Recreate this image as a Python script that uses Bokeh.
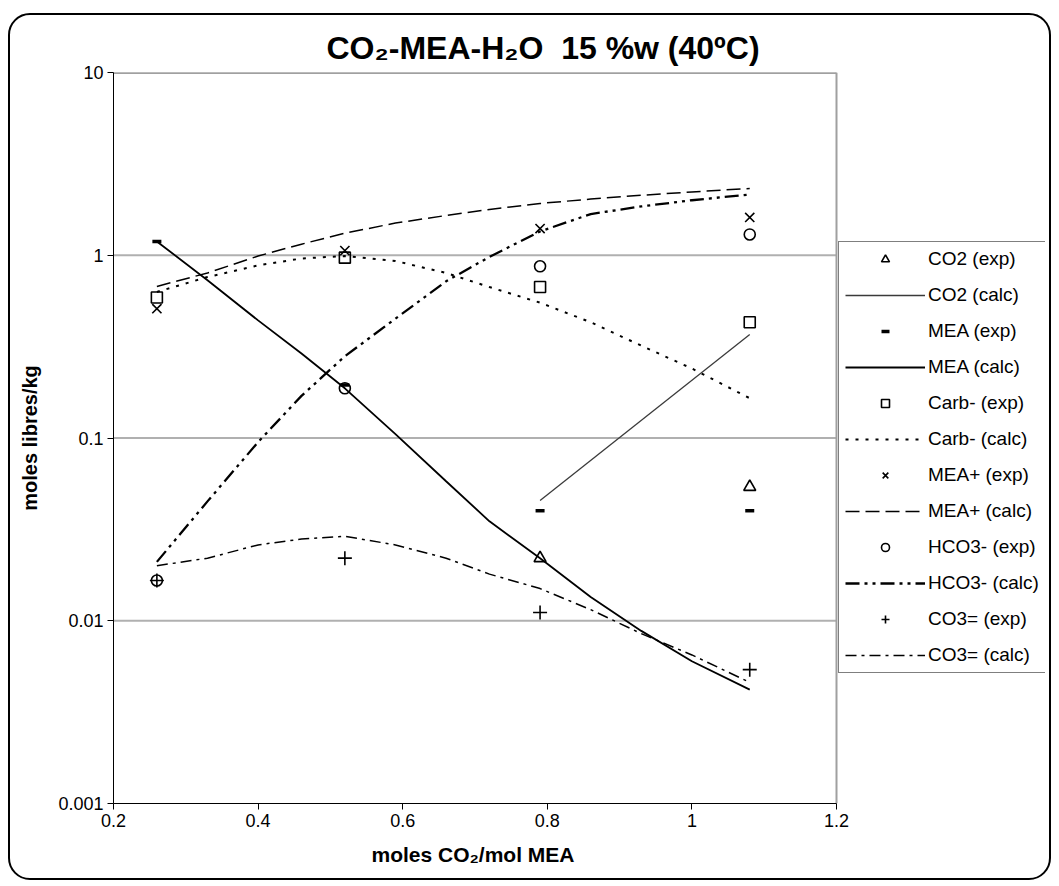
from bokeh.plotting import figure
from bokeh.models import Legend, LegendItem, FixedTicker, Title
from bokeh.embed import file_html
from bokeh.resources import INLINE

# ---------------- data ----------------
x_exp = [0.26, 0.52, 0.79, 1.08]
co2_exp_x = [0.79, 1.08]
co2_exp = [0.022, 0.054]
mea_exp = [1.19, 0.195, 0.040, 0.040]
carb_exp = [0.587, 0.97, 0.67, 0.43]
meap_exp = [0.51, 1.06, 1.40, 1.61]
hco3_exp = [0.0166, 0.187, 0.87, 1.30]
co3_exp = [0.0166, 0.022, 0.0111, 0.0054]

x_calc = [0.26, 0.33, 0.40, 0.46, 0.52, 0.59, 0.66, 0.72, 0.79, 0.86, 0.93, 1.00, 1.08]
co2_calc_x = [0.79, 1.08]
co2_calc = [0.0455, 0.368]
mea_calc = [1.19, 0.73, 0.44, 0.29, 0.187, 0.105, 0.058, 0.035, 0.022, 0.0135, 0.0088, 0.006, 0.0042]
carb_calc = [0.63, 0.76, 0.88, 0.96, 0.99, 0.93, 0.80, 0.67, 0.55, 0.43, 0.32, 0.24, 0.165]
meap_calc = [0.675, 0.80, 0.99, 1.15, 1.32, 1.50, 1.65, 1.78, 1.92, 2.03, 2.13, 2.22, 2.32]
hco3_calc = [0.021, 0.045, 0.095, 0.17, 0.28, 0.45, 0.72, 0.98, 1.35, 1.68, 1.85, 2.0, 2.15]
co3_calc = [0.020, 0.022, 0.026, 0.028, 0.029, 0.026, 0.022, 0.018, 0.015, 0.0115, 0.0085, 0.0065, 0.0046]

x_ticks = [0.2, 0.4, 0.6, 0.8, 1.0, 1.2]
x_tick_labels = ["0.2", "0.4", "0.6", "0.8", "1", "1.2"]
y_ticks = [0.001, 0.01, 0.1, 1, 10]
y_tick_labels = ["0.001", "0.01", "0.1", "1", "10"]

title_text = "CO₂-MEA-H₂O\u00a0 15 %w (40ºC)"
x_label = "moles CO₂/mol MEA"
y_label = "moles libres/kg"

FONT = "Liberation Sans"

# plot area spans x_ticks[0]..x_ticks[-1]; the frame is widened so the legend
# (which sits right of the plot area) lies inside the drawable frame
x_lo, x_hi = x_ticks[0], x_ticks[-1]
frame_px = 1035 - 103
area_px = 723
x_end = x_lo + (x_hi - x_lo) * frame_px / area_px

p = figure(width=1043, height=867, x_range=(x_lo, x_end), y_range=(y_ticks[0], y_ticks[-1]),
           y_axis_type="log", output_backend="svg", toolbar_location=None,
           min_border_left=103, min_border_right=8, min_border_top=57,
           min_border_bottom=79, background_fill_color="white",
           border_fill_color="white", border_fill_alpha=0.0)
p.styles = {"border": "2px solid black", "border-radius": "22px",
            "margin-left": "8px", "margin-top": "13px", "overflow": "hidden",
            "background-color": "white"}

p.outline_line_color = None
p.xgrid.visible = False
p.ygrid.visible = False

# grid lines and plot-area border (grey), limited to the plot area
p.segment(x0=[x_lo] * (len(y_ticks) - 1), x1=[x_hi] * (len(y_ticks) - 1),
          y0=y_ticks[1:], y1=y_ticks[1:], line_color="#b0b0b0", line_width=2)
p.segment(x0=[x_lo], x1=[x_hi], y0=[y_ticks[-1]], y1=[y_ticks[-1]],
          line_color="#a0a0a0", line_width=3)
p.segment(x0=[x_hi], x1=[x_hi], y0=[y_ticks[0]], y1=[y_ticks[-1]],
          line_color="#a0a0a0", line_width=2)

p.xaxis.ticker = FixedTicker(ticks=x_ticks, minor_ticks=[])
p.xaxis.major_label_overrides = {t: l for t, l in zip(x_ticks, x_tick_labels)}
p.xaxis.bounds = (x_lo, x_hi)
p.yaxis.ticker = FixedTicker(ticks=y_ticks, minor_ticks=[])
p.yaxis.major_label_overrides = {t: l for t, l in zip(y_ticks, y_tick_labels)}

for ax in (p.xaxis[0], p.yaxis[0]):
    ax.axis_line_color = "black"
    ax.axis_line_width = 1
    ax.major_tick_line_color = "black"
    ax.major_tick_in = 0
    ax.major_tick_out = 6
    ax.minor_tick_line_color = None
    ax.major_label_text_font = FONT
    ax.major_label_text_font_size = "18px"
    ax.major_label_text_color = "black"
    ax.axis_label_text_font = FONT
    ax.axis_label_text_font_size = "20px"
    ax.axis_label_text_font_style = "bold"
    ax.axis_label_text_color = "black"

p.yaxis.axis_label = y_label
p.xaxis.major_label_standoff = 4
p.yaxis.major_label_standoff = 4
p.yaxis.axis_label_standoff = 14

# x-axis title: centred under the plot area (not under the widened frame)
xt = Title(text=x_label, align="left", offset=258, text_font=FONT,
           text_font_size="21px", text_font_style="bold", text_color="black",
           standoff=27, vertical_align="top")
p.add_layout(xt, "below")

# ---------------- title ----------------
p.title.text = title_text
p.title.align = "left"
p.title.offset = 213
p.title.text_font = FONT
p.title.text_font_size = "32px"
p.title.text_font_style = "bold"
p.title.text_color = "black"
p.title.standoff = 14
p.title.vertical_align = "bottom"

# ---------------- calculated curves ----------------
r_co2c = p.line(co2_calc_x, co2_calc, line_color="#3a3a3a", line_width=1.3)
r_meac = p.line(x_calc, mea_calc, line_color="black", line_width=1.8)
r_carbc = p.line(x_calc, carb_calc, line_color="black", line_width=2, line_dash="3 7")
r_meapc = p.line(x_calc, meap_calc, line_color="black", line_width=1.5, line_dash="14 6")
r_hco3c = p.line(x_calc, hco3_calc, line_color="black", line_width=2.3, line_dash="14 5 3 5 3 5")
r_co3c = p.line(x_calc, co3_calc, line_color="black", line_width=1.5, line_dash="11 5 3 5")

# ---------------- experimental points ----------------
r_co2e = p.scatter(co2_exp_x, co2_exp, marker="triangle", size=12, fill_color=None,
                   line_color="black", line_width=1.6)
r_meae = p.scatter(x_exp, mea_exp, marker="dash", size=9, line_color="black", line_width=3.5)
r_carbe = p.scatter(x_exp, carb_exp, marker="square", size=11, fill_color=None,
                    line_color="black", line_width=1.6)
r_meape = p.scatter(x_exp, meap_exp, marker="x", size=13, line_color="black", line_width=1.6)
r_hco3e = p.scatter(x_exp, hco3_exp, marker="circle", size=11, fill_color=None,
                    line_color="black", line_width=1.6)
r_co3e = p.scatter(x_exp, co3_exp, marker="cross", size=14, line_color="black", line_width=1.6)

items = [
    ("CO2 (exp)", r_co2e), ("CO2 (calc)", r_co2c),
    ("MEA (exp)", r_meae), ("MEA (calc)", r_meac),
    ("Carb- (exp)", r_carbe), ("Carb- (calc)", r_carbc),
    ("MEA+ (exp)", r_meape), ("MEA+ (calc)", r_meapc),
    ("HCO3- (exp)", r_hco3e), ("HCO3- (calc)", r_hco3c),
    ("CO3= (exp)", r_co3e), ("CO3= (calc)", r_co3c),
]
legend = Legend(items=[LegendItem(label=l, renderers=[r]) for l, r in items],
                location=(725, 130), orientation="vertical",
                glyph_width=80, glyph_height=20, label_height=20, label_width=98,
                spacing=14, padding=6, margin=0, label_standoff=3,
                label_text_font=FONT, label_text_font_size="19px",
                label_text_color="black", border_line_color="black",
                border_line_width=1, background_fill_color="white",
                background_fill_alpha=1.0)
p.add_layout(legend)

open("out.html", "w").write(file_html(p, INLINE))
